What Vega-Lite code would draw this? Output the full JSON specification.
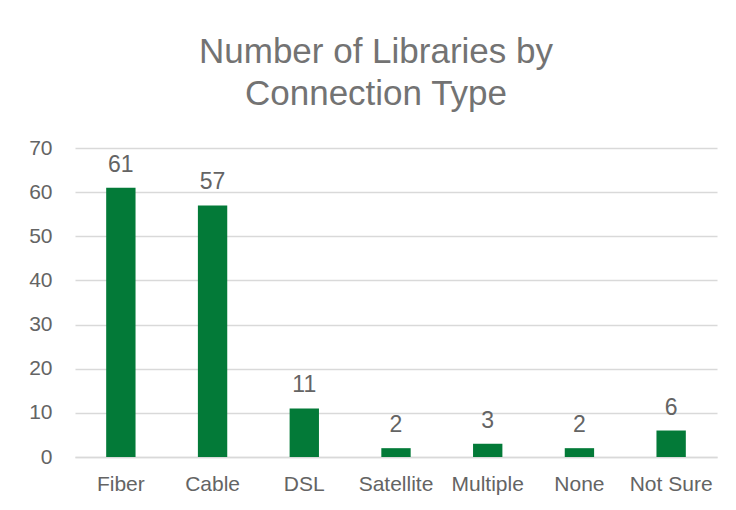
{
  "$schema": "https://vega.github.io/schema/vega-lite/v6.json",
  "width": 642,
  "height": 309,
  "autosize": "none",
  "padding": {"left": 75, "top": 148, "right": 19, "bottom": 53},
  "background": "white",
  "config": {
    "font": "Liberation Sans",
    "view": {"stroke": null}
  },
  "title": {
    "text": ["Number of Libraries by", "Connection Type"],
    "fontSize": 35,
    "fontWeight": "normal",
    "color": "#737373",
    "anchor": "middle",
    "frame": "group",
    "dx": -20,
    "lineHeight": 42,
    "offset": 25
  },
  "data": {
    "values": [
      {"type": "Fiber", "count": 61},
      {"type": "Cable", "count": 57},
      {"type": "DSL", "count": 11},
      {"type": "Satellite", "count": 2},
      {"type": "Multiple", "count": 3},
      {"type": "None", "count": 2},
      {"type": "Not Sure", "count": 6}
    ]
  },
  "encoding": {
    "x": {
      "field": "type",
      "type": "nominal",
      "sort": null,
      "scale": {"paddingInner": 0.68, "paddingOuter": 0.34},
      "axis": {
        "title": null,
        "labelAngle": 0,
        "labelFontSize": 21,
        "labelColor": "#646464",
        "labelPadding": 16,
        "ticks": false,
        "domain": true,
        "domainColor": "#d9d9d9",
        "domainWidth": 1.5
      }
    },
    "y": {
      "field": "count",
      "type": "quantitative",
      "scale": {"domain": [0, 70]},
      "axis": {
        "title": null,
        "values": [0, 10, 20, 30, 40, 50, 60, 70],
        "labelFontSize": 21,
        "labelColor": "#646464",
        "labelPadding": 23,
        "ticks": false,
        "domain": false,
        "gridColor": "#d9d9d9",
        "gridWidth": 1.5
      }
    }
  },
  "layer": [
    {"mark": {"type": "bar", "color": "#037a38"}},
    {
      "mark": {"type": "text", "baseline": "alphabetic", "dy": -16, "fontSize": 23, "color": "#646464"},
      "encoding": {"text": {"field": "count", "type": "quantitative"}}
    }
  ]
}
